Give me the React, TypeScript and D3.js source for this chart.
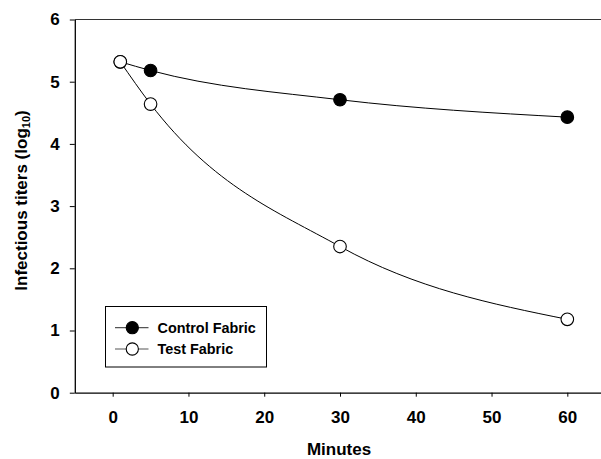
import React, { useEffect, useRef } from "react";
import * as d3 from "d3";

const minutes = [1, 5, 30, 60];
const controlFabric = [5.32, 5.18, 4.71, 4.43];
const testFabric = [5.32, 4.64, 2.35, 1.18];
const xTicks = [0, 10, 20, 30, 40, 50, 60];
const yTicks = [0, 1, 2, 3, 4, 5, 6];
const seriesNames = ["Control Fabric", "Test Fabric"];

const App = () => {
  const ref = useRef<SVGSVGElement>(null);
  const width = 601,
    height = 459;

  useEffect(() => {
    const svg = d3.select(ref.current);
    svg.selectAll("*").remove();
    const font = "'Liberation Sans', Arial, sans-serif";

    const x = d3.scaleLinear().domain([-5, 65]).range([74.8, 605.2]);
    const y = d3.scaleLinear().domain([0, 6]).range([392.7, 19.5]);

    // frame top line
    svg
      .append("line")
      .attr("x1", x(-5))
      .attr("x2", width)
      .attr("y1", 19.5)
      .attr("y2", 19.5)
      .attr("stroke", "#333")
      .attr("stroke-width", 1.2);

    const xAxis = svg
      .append("g")
      .attr("transform", `translate(0, ${y(0)})`)
      .call(
        d3
          .axisBottom(x)
          .tickValues(xTicks)
          .tickFormat(d3.format("d"))
          .tickSizeInner(4)
          .tickSizeOuter(0)
          .tickPadding(14)
      );
    xAxis.select(".domain").attr("stroke", "#000").attr("stroke-width", 1.3);
    xAxis.selectAll(".tick line").attr("stroke", "#000");
    xAxis
      .selectAll(".tick text")
      .style("font-family", font)
      .style("font-size", "17px")
      .style("font-weight", "bold")
      .attr("fill", "#000");

    const yAxis = svg
      .append("g")
      .attr("transform", `translate(${x(-5)}, 0)`)
      .call(
        d3
          .axisLeft(y)
          .tickValues(yTicks)
          .tickFormat(d3.format("d"))
          .tickSizeInner(5)
          .tickSizeOuter(0)
          .tickPadding(10)
      );
    yAxis.select(".domain").attr("stroke", "#000").attr("stroke-width", 1.3);
    yAxis.selectAll(".tick line").attr("stroke", "#000");
    yAxis
      .selectAll(".tick text")
      .style("font-family", font)
      .style("font-size", "17px")
      .style("font-weight", "bold")
      .attr("fill", "#000");

    const line = d3
      .line<number>()
      .x((d, i) => x(minutes[i]))
      .y((d) => y(d))
      .curve(d3.curveMonotoneX);

    [controlFabric, testFabric].forEach((vals) => {
      svg
        .append("path")
        .attr("d", line(vals))
        .attr("fill", "none")
        .attr("stroke", "#000")
        .attr("stroke-width", 1);
    });

    [controlFabric, testFabric].forEach((vals, k) => {
      svg
        .selectAll(`circle.s${k}`)
        .data(vals)
        .enter()
        .append("circle")
        .attr("class", `s${k}`)
        .attr("cx", (d, i) => x(minutes[i]))
        .attr("cy", (d) => y(d))
        .attr("r", 6.3)
        .attr("fill", k === 0 ? "#000" : "#fff")
        .attr("stroke", "#000")
        .attr("stroke-width", 1.1);
    });

    // legend
    const legend = svg.append("g");
    legend
      .append("rect")
      .attr("x", 105.5)
      .attr("y", 306.5)
      .attr("width", 161)
      .attr("height", 60.5)
      .attr("fill", "#fff")
      .attr("stroke", "#000")
      .attr("stroke-width", 1);
    seriesNames.forEach((name, k) => {
      const ly = 327.7 + k * 21.3;
      legend
        .append("line")
        .attr("x1", 115)
        .attr("x2", 148.5)
        .attr("y1", ly)
        .attr("y2", ly)
        .attr("stroke", "#555")
        .attr("stroke-width", 1.2);
      legend
        .append("circle")
        .attr("cx", 132.3)
        .attr("cy", ly)
        .attr("r", 6.1)
        .attr("fill", k === 0 ? "#000" : "#fff")
        .attr("stroke", "#000")
        .attr("stroke-width", 1.1);
      legend
        .append("text")
        .attr("x", 157.5)
        .attr("y", ly + 5.2)
        .style("font-family", font)
        .style("font-size", "14.4px")
        .style("font-weight", "bold")
        .text(name);
    });

    svg
      .append("text")
      .attr("x", 339)
      .attr("y", 455)
      .attr("text-anchor", "middle")
      .style("font-family", font)
      .style("font-size", "17px")
      .style("font-weight", "bold")
      .text("Minutes");

    const yTitle = svg
      .append("text")
      .attr("transform", "translate(26.7, 200.5) rotate(-90)")
      .attr("text-anchor", "middle")
      .style("font-family", font)
      .style("font-size", "17px")
      .style("font-weight", "bold");
    yTitle.append("tspan").text("Infectious titers (log");
    yTitle.append("tspan").attr("dy", 3).style("font-size", "11px").text("10");
    yTitle.append("tspan").attr("dy", -3).text(")");
  }, []);

  return (
    <svg
      ref={ref}
      width={width}
      height={height}
      style={{ position: "absolute", left: 0, top: 0, background: "#fff" }}
    ></svg>
  );
};

export default App;
